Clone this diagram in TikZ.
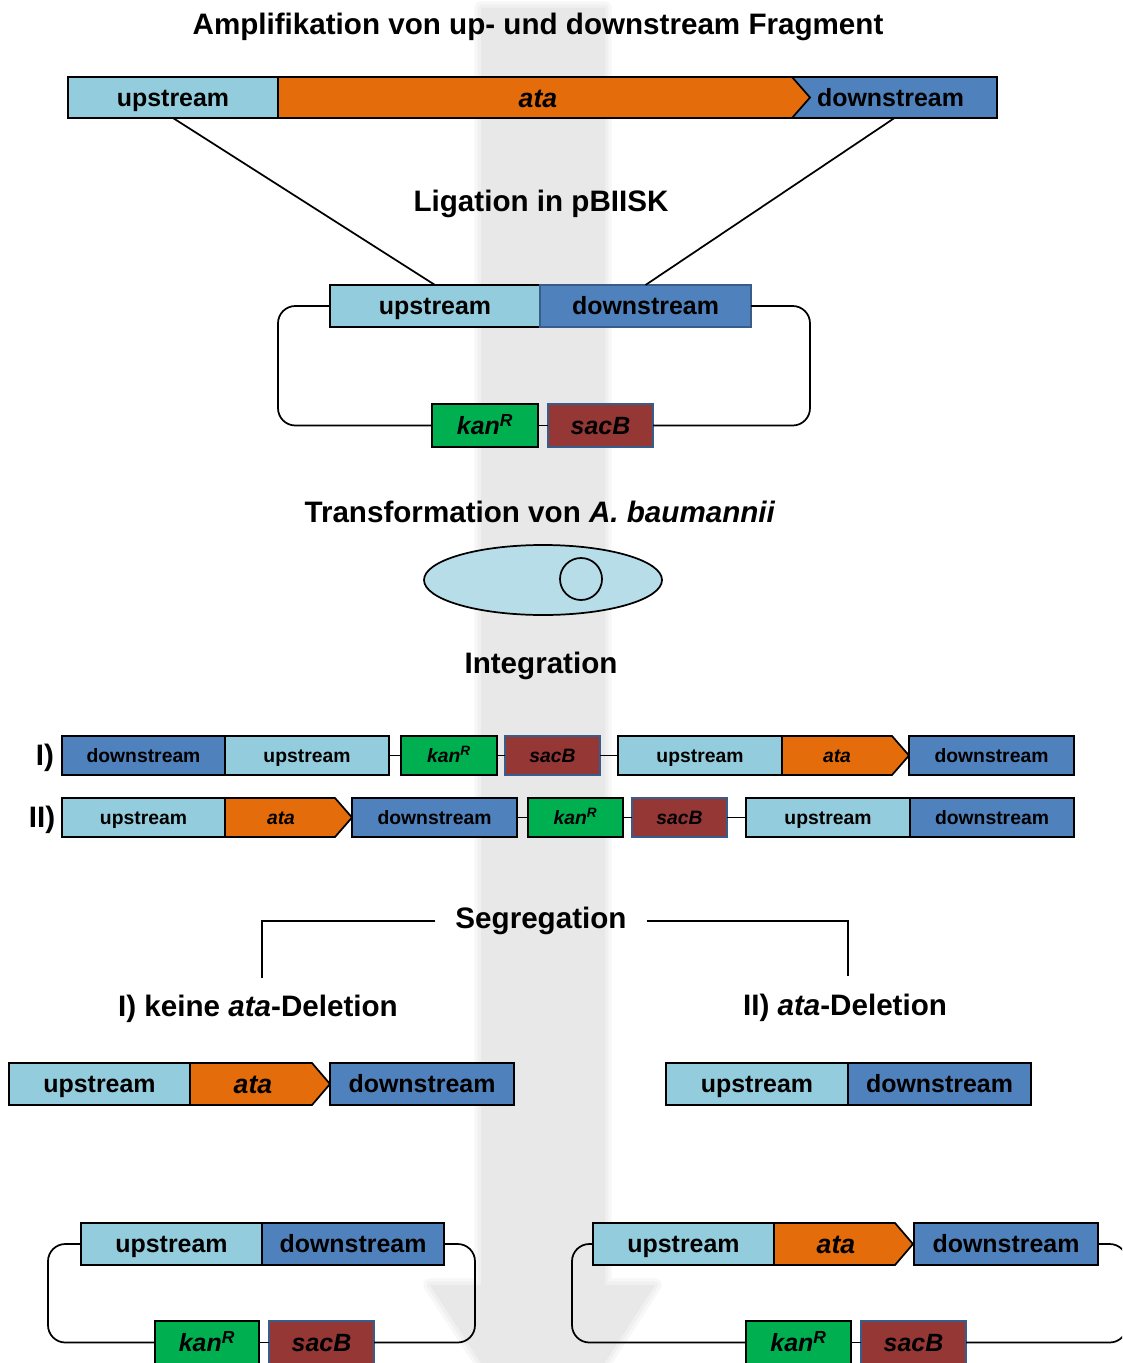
\documentclass[tikz,border=0pt]{standalone}
\usepackage{fontspec}
\setmainfont{Liberation Sans}
\usetikzlibrary{shapes.geometric}
\definecolor{up}{HTML}{93CDDD}
\definecolor{dn}{HTML}{4F81BD}
\definecolor{atac}{HTML}{E46C0A}
\definecolor{kan}{HTML}{00B050}
\definecolor{sac}{HTML}{953735}
\definecolor{cell}{HTML}{B7DEE8}
\definecolor{blueborder}{HTML}{385D8A}
\newcommand{\kanR}{\textit{kan}\textsuperscript{\textit{R}}}
\newcommand{\bgpath}{(481,8) -- (605,8) -- (605,1285) -- (655,1285) -- (543,1458) -- (430,1285) -- (481,1285) -- cycle}
\begin{document}
\begin{tikzpicture}[x=0.75pt,y=-0.75pt,
  bx/.style n args={2}{draw=black, line width=1.3pt, inner sep=0pt, outer sep=0pt,
    minimum width=#1*0.75pt, minimum height=#2*0.75pt, anchor=north west},
  gene/.style={draw=black, line width=1.3pt, line join=miter},
  conn/.style={draw=black, line width=1.3pt},
  loopline/.style={draw=black, line width=1.3pt, rounded corners=13pt},
  big/.style={font=\fontsize{18.7}{20}\selectfont\bfseries, text height=13.4pt, text depth=0pt},
  bigata/.style={font=\fontsize{20}{22}\selectfont\bfseries\itshape, inner sep=0pt, text height=14.3pt, text depth=0pt},
  small/.style={font=\fontsize{14.5}{16}\selectfont\bfseries, text height=10.4pt, text depth=0pt},
  head/.style={font=\fontsize{22.2}{24}\selectfont\bfseries, inner sep=0pt, yshift=-2.2pt},
]
\useasboundingbox (0,0) rectangle (1122,1363);
\clip (0,0) rectangle (1122,1363);
\fill[white] (0,0) rectangle (1122,1363);

% background arrow
\draw[draw=black!3, line width=10pt, line join=round] \bgpath;
\draw[draw=black!6, line width=5pt, line join=round] \bgpath;
\fill[black!9] \bgpath;

% title
\node[head] (title) at (538,24) {Amplifikation von up- und downstream Fragment};

% top bar
\node[bx={205}{41}, fill=dn, big] (dnT) at (792,77) {\hspace*{-6pt}downstream};
\draw[gene, fill=atac] (278,77) -- (792,77) -- (810,97.5) -- (792,118) -- (278,118) -- cycle;
\node[bigata] (ataT) at (538,97.5) {ata};
\node[bx={210}{41}, fill=up, big] (upT) at (68,77) {upstream};

\node[head] (lig) at (541,201) {Ligation in pBIISK};

% plasmid
\node[bx={210}{42}, fill=up, big] (upP) at (330,285) {upstream};
\node[bx={211}{42}, fill=dn, big, draw=blueborder] (dnP) at (540,285) {downstream};
\node[bx={106}{43}, fill=kan, big] (kanP) at (432,404) {\kanR};
\node[bx={105}{43}, fill=sac, big, draw=blueborder] (sacP) at (548,404) {\textit{sacB}};
\draw[conn] (upT.south) -- (upP.north);
\draw[conn] (dnT.south) -- (dnP.north);
\draw[loopline] (upP.west) -- ++(-52,0) |- (kanP.west);
\draw[loopline] (dnP.east) -- ++(59,0) |- (sacP.east);
\draw[conn] (kanP.east) -- (sacP.west);

\node[head] (trans) at (540,509) {Transformation von \textit{A. baumannii}};
\node[draw=black, line width=1.3pt, ellipse, fill=cell, minimum width=238*0.75pt, minimum height=70*0.75pt, inner sep=0pt] (cellnode) at (543,580) {};
\node[draw=black, line width=1.3pt, circle, minimum size=42*0.75pt, inner sep=0pt] (nuc) at (581,579) {};

\node[head] (integ) at (541,663) {Integration};

% row I
\node[head] (lI) at (45,755) {I)};
\node[bx={163}{39}, fill=dn, small] (dn1a) at (62,736) {downstream};
\node[bx={164}{39}, fill=up, small] (up1a) at (225,736) {upstream};
\node[bx={96}{39}, fill=kan, small] (kan1) at (401,736) {\kanR};
\node[bx={95}{39}, fill=sac, small, draw=blueborder] (sac1) at (505,736) {\textit{sacB}};
\node[bx={164}{39}, fill=up, small] (up1b) at (618,736) {upstream};
\draw[gene, fill=atac] (782,736) -- (892,736) -- (909,755.5) -- (892,775) -- (782,775) -- cycle;
\node[small, inner sep=0pt] (ata1) at (837,755.5) {\textit{ata}};
\node[bx={165}{39}, fill=dn, small] (dn1b) at (909,736) {downstream};
\draw[conn] (up1a.east) -- (kan1.west);
\draw[conn] (kan1.east) -- (sac1.west);
\draw[conn] (sac1.east) -- (up1b.west);

% row II
\node[head] (lII) at (42,817) {II)};
\node[bx={163}{39}, fill=up, small] (up2a) at (62,798) {upstream};
\draw[gene, fill=atac] (225,798) -- (335,798) -- (352,817.5) -- (335,837) -- (225,837) -- cycle;
\node[small, inner sep=0pt] (ata2) at (281,817.5) {\textit{ata}};
\node[bx={165}{39}, fill=dn, small] (dn2a) at (352,798) {downstream};
\node[bx={95}{39}, fill=kan, small] (kan2) at (528,798) {\kanR};
\node[bx={95}{39}, fill=sac, small, draw=blueborder] (sac2) at (632,798) {\textit{sacB}};
\node[bx={164}{39}, fill=up, small] (up2b) at (746,798) {upstream};
\node[bx={164}{39}, fill=dn, small] (dn2b) at (910,798) {downstream};
\draw[conn] (dn2a.east) -- (kan2.west);
\draw[conn] (kan2.east) -- (sac2.west);
\draw[conn] (sac2.east) -- (up2b.west);

% segregation
\node[head, outer xsep=15pt] (seg) at (541,918) {Segregation};
\coordinate (segL) at (262,978);
\coordinate (segR) at (848,976);
\draw[conn] (seg.west) -| (segL);
\draw[conn] (seg.east) -| (segR);
\node[head] (resI) at (258,1006) {I) keine \textit{ata}-Deletion};
\node[head] (resII) at (845,1005) {II) \textit{ata}-Deletion};

% results
\node[bx={181}{42}, fill=up, big] (upL) at (9,1063) {upstream};
\draw[gene, fill=atac] (190,1063) -- (312,1063) -- (330,1084) -- (312,1105) -- (190,1105) -- cycle;
\node[bigata] (ataL) at (253,1084) {ata};
\node[bx={184}{42}, fill=dn, big] (dnL) at (330,1063) {downstream};

\node[bx={182}{42}, fill=up, big] (upR) at (666,1063) {upstream};
\node[bx={183}{42}, fill=dn, big] (dnR) at (848,1063) {downstream};

% bottom left plasmid
\node[bx={181}{42}, fill=up, big] (upBL) at (81,1223) {upstream};
\node[bx={182}{42}, fill=dn, big] (dnBL) at (262,1223) {downstream};
\node[bx={104}{43}, fill=kan, big] (kanBL) at (155,1321) {\kanR};
\node[bx={105}{43}, fill=sac, big, draw=blueborder] (sacBL) at (269,1321) {\textit{sacB}};
\draw[loopline] (upBL.west) -- ++(-33,0) |- (kanBL.west);
\draw[loopline] (dnBL.east) -- ++(31,0) |- (sacBL.east);
\draw[conn] (kanBL.east) -- (sacBL.west);

% bottom right plasmid
\node[bx={181}{42}, fill=up, big] (upBR) at (593,1223) {upstream};
\draw[gene, fill=atac] (774,1223) -- (895,1223) -- (913,1244) -- (895,1265) -- (774,1265) -- cycle;
\node[bigata] (ataBR) at (836,1244) {ata};
\node[bx={184}{42}, fill=dn, big] (dnBR) at (914,1223) {downstream};
\node[bx={105}{43}, fill=kan, big] (kanBR) at (746,1321) {\kanR};
\node[bx={105}{43}, fill=sac, big, draw=blueborder] (sacBR) at (861,1321) {\textit{sacB}};
\draw[loopline] (upBR.west) -- ++(-21,0) |- (kanBR.west);
\draw[loopline] (dnBR.east) -- ++(29,0) |- (sacBR.east);
\draw[conn] (kanBR.east) -- (sacBR.west);
\end{tikzpicture}
\end{document}
